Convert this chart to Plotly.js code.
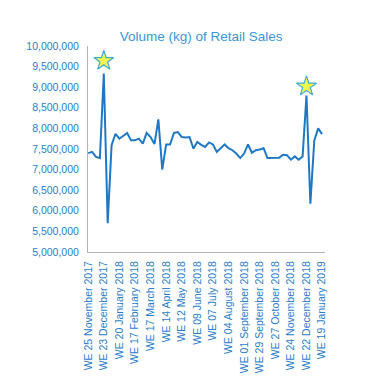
<!DOCTYPE html>
<html>
<head>
<meta charset="utf-8">
<script src="https://cdn.plot.ly/plotly-3.0.1.min.js"></script>
<style>html,body{margin:0;padding:0;background:#fff;}#chart{width:369px;height:380px;}</style>
</head>
<body>
<div id="chart"></div>
<script>
var weeks = [
"WE 25 November 2017","WE 02 December 2017","WE 09 December 2017","WE 16 December 2017",
"WE 23 December 2017","WE 30 December 2017","WE 06 January 2018","WE 13 January 2018",
"WE 20 January 2018","WE 27 January 2018","WE 03 February 2018","WE 10 February 2018",
"WE 17 February 2018","WE 24 February 2018","WE 03 March 2018","WE 10 March 2018",
"WE 17 March 2018","WE 24 March 2018","WE 31 March 2018","WE 07 April 2018",
"WE 14 April 2018","WE 21 April 2018","WE 28 April 2018","WE 05 May 2018",
"WE 12 May 2018","WE 19 May 2018","WE 26 May 2018","WE 02 June 2018",
"WE 09 June 2018","WE 16 June 2018","WE 23 June 2018","WE 30 June 2018",
"WE 07 July 2018","WE 14 July 2018","WE 21 July 2018","WE 28 July 2018",
"WE 04 August 2018","WE 11 August 2018","WE 18 August 2018","WE 25 August 2018",
"WE 01 September 2018","WE 08 September 2018","WE 15 September 2018","WE 22 September 2018",
"WE 29 September 2018","WE 06 October 2018","WE 13 October 2018","WE 20 October 2018",
"WE 27 October 2018","WE 03 November 2018","WE 10 November 2018","WE 17 November 2018",
"WE 24 November 2018","WE 01 December 2018","WE 08 December 2018","WE 15 December 2018",
"WE 22 December 2018","WE 29 December 2018","WE 05 January 2019","WE 12 January 2019",
"WE 19 January 2019"
];
var volume = [
7400000,7430000,7310000,7280000,9330000,5700000,7590000,7870000,
7750000,7830000,7890000,7710000,7710000,7750000,7630000,7890000,
7790000,7620000,8220000,7000000,7610000,7610000,7890000,7910000,
7790000,7780000,7790000,7510000,7670000,7600000,7550000,7660000,
7610000,7430000,7530000,7610000,7520000,7470000,7390000,7280000,
7390000,7610000,7410000,7470000,7490000,7520000,7280000,7280000,
7280000,7290000,7360000,7350000,7240000,7320000,7240000,7320000,
8800000,6170000,7710000,8000000,7860000
];
var tickLabels = [
"WE 25 November 2017","WE 23 December 2017","WE 20 January 2018","WE 17 February 2018",
"WE 17 March 2018","WE 14 April 2018","WE 12 May 2018","WE 09 June 2018",
"WE 07 July 2018","WE 04 August 2018","WE 01 September 2018","WE 29 September 2018",
"WE 27 October 2018","WE 24 November 2018","WE 22 December 2018","WE 19 January 2019"
];
var starWeeks = ["WE 23 December 2017","WE 22 December 2018"];
var starValues = [9640000, 9020000];

var font = "Liberation Sans, Arial, sans-serif";
var traces = [
  {x: weeks, y: volume, type: "scatter", mode: "lines",
   line: {color: "#1f78c4", width: 2}, hoverinfo: "x+y"},
  {x: starWeeks, y: starValues, type: "scatter", mode: "markers",
   marker: {symbol: "star", size: 15, color: "#f6f650", line: {color: "#3fa9d8", width: 1.2}}}
];
var layout = {
  width: 369, height: 380,
  margin: {l: 88, r: 44, t: 46, b: 128, pad: 0},
  paper_bgcolor: "#ffffff", plot_bgcolor: "#ffffff",
  showlegend: false,
  font: {family: font, color: "#2a7dc9"},
  title: {text: "Volume (kg) of Retail Sales", font: {family: font, size: 13.5, color: "#3a97d4"},
          x: 0.545, xref: "container", xanchor: "center", y: 0.905, yref: "container", yanchor: "middle"},
  xaxis: {type: "category", categoryorder: "array", categoryarray: weeks,
          range: [-0.05, 60.75], tickmode: "array", tickvals: tickLabels, ticktext: tickLabels,
          tickangle: -90, tickfont: {size: 10.5, color: "#2a7dc9"}, ticklabelstandoff: 4,
          showgrid: false, zeroline: false, showline: true, linecolor: "#b3b3b3", linewidth: 1,
          ticks: "", ticklen: 0, automargin: false},
  yaxis: {range: [5000000, 10000000], dtick: 500000, tick0: 5000000, tickformat: ",d",
          tickfont: {size: 10.5, color: "#2a7dc9"}, ticklabelstandoff: 6, showgrid: false, zeroline: false,
          showline: true, linecolor: "#b3b3b3", linewidth: 1, ticks: "", ticklen: 0,
          automargin: false}
};
Plotly.newPlot("chart", traces, layout, {staticPlot: true, displayModeBar: false});
</script>
</body>
</html>
